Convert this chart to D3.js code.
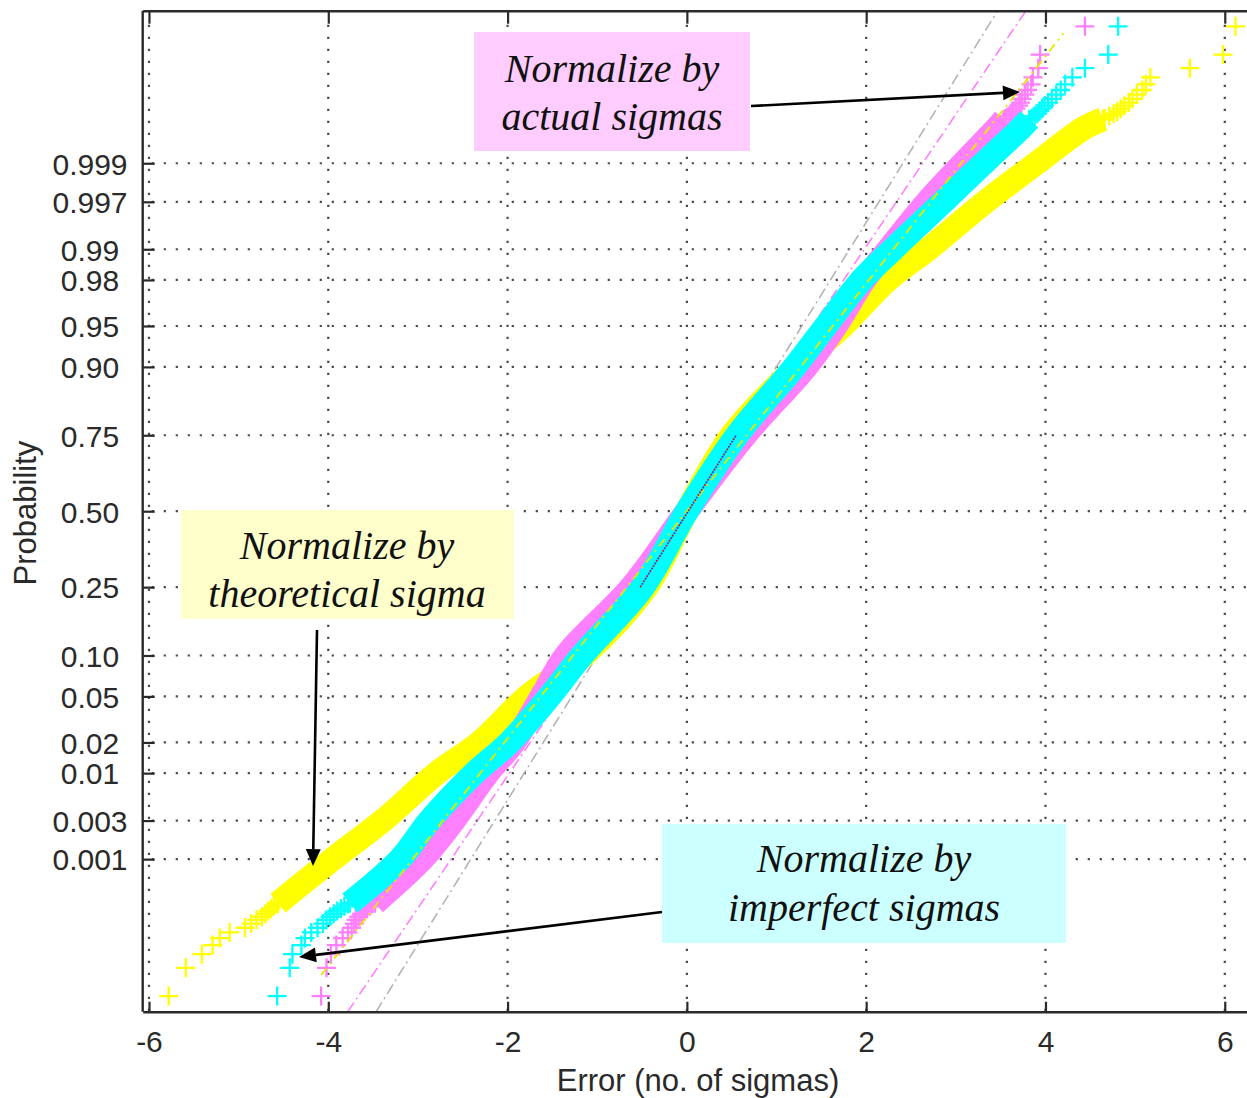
<!DOCTYPE html>
<html><head><meta charset="utf-8">
<script src="https://cdn.jsdelivr.net/npm/d3@7"></script>
<style>
html,body{margin:0;padding:0;background:#fff;}
svg{display:block;}
</style></head><body>
<svg id="chart" width="1247" height="1098"></svg>
<script>
// ---- axis ticks ----
const probTicks = [0.001, 0.003, 0.01, 0.02, 0.05, 0.10, 0.25, 0.50, 0.75, 0.90, 0.95, 0.98, 0.99, 0.997, 0.999];
const probTickLabels = ["0.001","0.003","0.01","0.02","0.05","0.10","0.25","0.50","0.75","0.90","0.95","0.98","0.99","0.997","0.999"];
const errorTicks = [-6, -4, -2, 0, 2, 4, 6];

// ---- dense part of each sample: error value at each probability level ----
const bandProbs       = [0.00025, 0.001, 0.003, 0.01, 0.02, 0.05, 0.10, 0.25, 0.50, 0.75, 0.90, 0.95, 0.98, 0.99, 0.997, 0.999, 0.99966, 0.99975];
const theoreticalBand = [-4.56, -3.95, -3.39, -2.79, -2.31, -1.78, -1.15, -0.45, 0.00, 0.50, 1.22, 1.74, 2.24, 2.69, 3.33, 3.90, 4.42, 4.64];
const actualBand      = [-3.48, -2.95, -2.60, -2.22, -1.93, -1.62, -1.35, -0.62, 0.00, 0.65, 1.33, 1.66, 1.98, 2.25, 2.68, 3.08, 3.45, 3.54];
const imperfectBand   = [-3.76, -3.20, -2.87, -2.37, -1.98, -1.53, -1.17, -0.49, 0.00, 0.56, 1.20, 1.55, 1.95, 2.30, 2.86, 3.31, 3.72, 3.82];

// ---- outermost order statistics (plotting positions of ranks 1..15 from each end) ----
const lowTailProbs  = [0.0000083, 0.000025, 0.0000417, 0.0000583, 0.000075, 0.0000917, 0.000108, 0.000125, 0.000142,
                       0.000158, 0.000175, 0.000192, 0.000208, 0.000225, 0.000242];
const highTailProbs = [0.9999917, 0.999975, 0.9999583, 0.9999417, 0.999925, 0.9999083, 0.999892, 0.999875, 0.999858,
                       0.999842, 0.999825, 0.999808, 0.999792, 0.999775, 0.999758];
const theoreticalLow  = [-5.78, -5.59, -5.41, -5.29, -5.21, -5.10, -4.93, -4.86, -4.80, -4.74, -4.70, -4.67, -4.64, -4.61, -4.58];
const theoreticalHigh = [ 6.12,  5.98,  5.61,  5.17,  5.12,  5.08,  5.02,  4.97,  4.93,  4.88,  4.84,  4.80,  4.76,  4.71,  4.66];
const actualLow       = [-4.08, -4.02, -3.97, -3.91, -3.84, -3.78, -3.74, -3.71, -3.69, -3.66, -3.63, -3.60, -3.57, -3.54, -3.51];
const actualHigh      = [ 4.44,  3.94,  3.92,  3.86,  3.84,  3.80,  3.77,  3.74,  3.72,  3.70,  3.67,  3.64,  3.62,  3.59,  3.56];
const imperfectLow    = [-4.57, -4.43, -4.40, -4.30, -4.26, -4.19, -4.12, -4.06, -4.02, -3.98, -3.94, -3.90, -3.86, -3.82, -3.78];
const imperfectHigh   = [ 4.81,  4.70,  4.44,  4.30,  4.22,  4.17,  4.12,  4.07,  4.03,  3.99,  3.96,  3.93,  3.91,  3.88,  3.85];

// ---- reference lines: [error, probability] end points ----
const narrowFit   = [[-2.41, 0.001], [2.41, 0.999]];      // extended across the axes
const actualFit   = [[-2.63, 0.001], [2.63, 0.999]];      // extended across the axes
const unitFit     = [[-4.08, 0.000019], [4.20, 0.999989]];
const quartileFit = [[-0.52, 0.25], [0.55, 0.75]];

// inverse of the standard normal CDF (Acklam's rational approximation)
function probit(p) {
  const a=[-3.969683028665376e+01,2.209460984245205e+02,-2.759285104469687e+02,1.383577518672690e+02,-3.066479806614716e+01,2.506628277459239e+00];
  const b=[-5.447609879822406e+01,1.615858368580409e+02,-1.556989798598866e+02,6.680131188771972e+01,-1.328068155288572e+01];
  const c=[-7.784894002430293e-03,-3.223964580411365e-01,-2.400758277161838e+00,-2.549732539343734e+00,4.374664141464968e+00,2.938163982698783e+00];
  const d=[7.784695709041462e-03,3.224671290700398e-01,2.445134137142996e+00,3.754408661907416e+00];
  const pl = 0.02425, ph = 1 - pl;
  let q, r;
  if (p < pl) {
    q = Math.sqrt(-2 * Math.log(p));
    return (((((c[0]*q+c[1])*q+c[2])*q+c[3])*q+c[4])*q+c[5]) / ((((d[0]*q+d[1])*q+d[2])*q+d[3])*q+1);
  }
  if (p <= ph) {
    q = p - 0.5; r = q * q;
    return (((((a[0]*r+a[1])*r+a[2])*r+a[3])*r+a[4])*r+a[5])*q / (((((b[0]*r+b[1])*r+b[2])*r+b[3])*r+b[4])*r+1);
  }
  q = Math.sqrt(-2 * Math.log(1 - p));
  return -(((((c[0]*q+c[1])*q+c[2])*q+c[3])*q+c[4])*q+c[5]) / ((((d[0]*q+d[1])*q+d[2])*q+d[3])*q+1);
}

(function draw() {
  const svg = d3.select("#chart");
  const plotLeft = 142.7, plotTop = 10.7, plotBottom = 1011.7;
  const pxPerSigma = 89.65;
  const x = d3.scaleLinear().domain([-6.07, 6.5]).range([plotLeft, plotLeft + 12.57 * pxPerSigma]);
  const y = d3.scaleLinear().domain([-4.445, 4.445]).range([plotBottom, plotTop]);
  const plotRight = x.range()[1];
  const yP = p => y(probit(p));

  const axisFont = "'Liberation Sans', Arial, sans-serif";
  const inkColor = "#2a2a2a";

  svg.append("defs").append("clipPath").attr("id", "plotClip")
    .append("rect").attr("x", plotLeft).attr("y", plotTop)
    .attr("width", plotRight - plotLeft).attr("height", plotBottom - plotTop);

  // ---- dotted grid ----
  const grid = svg.append("g").attr("stroke", "#4a4a4a").attr("stroke-width", 2.2)
    .attr("stroke-dasharray", "2.2 9.8").attr("fill", "none");
  grid.selectAll("line.h").data(probTicks).join("line").attr("class", "h")
    .attr("x1", plotLeft + 9).attr("x2", plotRight).attr("y1", d => yP(d)).attr("y2", d => yP(d));
  grid.selectAll("line.v").data(errorTicks).join("line").attr("class", "v")
    .attr("x1", d => x(d)).attr("x2", d => x(d)).attr("y1", plotTop + 14).attr("y2", plotBottom);

  const plot = svg.append("g").attr("clip-path", "url(#plotClip)");

  // full-height reference line through two [error, prob] points
  function extendedLine(pts) {
    const z0 = probit(pts[0][1]), z1 = probit(pts[1][1]);
    const k = (pts[1][0] - pts[0][0]) / (z1 - z0);
    const [zlo, zhi] = y.domain();
    return [[pts[0][0] + k * (zlo - z0), zlo], [pts[0][0] + k * (zhi - z0), zhi]];
  }
  const zLine = d3.line().x(d => x(d[0])).y(d => y(d[1]));
  const pLine = d3.line().x(d => x(d[0])).y(d => yP(d[1]));

  plot.append("path").attr("d", zLine(extendedLine(narrowFit)))
    .attr("fill", "none").attr("stroke", "#b4b4b4").attr("stroke-width", 1.6).attr("stroke-dasharray", "11 4 2 4");
  plot.append("path").attr("d", zLine(extendedLine(actualFit)))
    .attr("fill", "none").attr("stroke", "#ff80ff").attr("stroke-width", 1.6).attr("stroke-dasharray", "11 4 2 4");

  // ---- the three samples ----
  const samples = [
    { color: "#ffff00", band: theoreticalBand, low: theoreticalLow, high: theoreticalHigh },
    { color: "#ff80ff", band: actualBand,      low: actualLow,      high: actualHigh },
    { color: "#00ffff", band: imperfectBand,   low: imperfectLow,   high: imperfectHigh }
  ];
  const bandLine = d3.line().x(d => x(d[0])).y(d => yP(d[1])).curve(d3.curveCatmullRom.alpha(0.5));
  const plusPath = "M-9.5,0H9.5M0,-9.5V9.5";

  samples.forEach(s => {
    const g = plot.append("g");
    const bandPts = s.band.map((v, i) => [v, bandProbs[i]]);
    g.append("path").attr("d", bandLine(bandPts))
      .attr("fill", "none").attr("stroke", s.color).attr("stroke-width", 24)
      .attr("stroke-linecap", "butt").attr("stroke-linejoin", "round");
    const pts = bandPts
      .concat(s.low.map((v, i) => [v, lowTailProbs[i]]))
      .concat(s.high.map((v, i) => [v, highTailProbs[i]]));
    g.selectAll("path.pt").data(pts).join("path").attr("class", "pt")
      .attr("d", plusPath)
      .attr("transform", d => `translate(${x(d[0])},${yP(d[1])})`)
      .attr("fill", "none").attr("stroke", s.color).attr("stroke-width", 2.3);
  });

  plot.append("path").attr("d", pLine(unitFit))
    .attr("fill", "none").attr("stroke", "#e6e600").attr("stroke-width", 1.8).attr("stroke-dasharray", "9 5 2 5");
  plot.append("path").attr("d", pLine(quartileFit))
    .attr("fill", "none").attr("stroke", "#c0203a").attr("stroke-width", 1.8).attr("stroke-dasharray", "2 4");
  plot.append("path").attr("d", pLine(quartileFit))
    .attr("fill", "none").attr("stroke", "#3040c0").attr("stroke-width", 1.8).attr("stroke-dasharray", "2 4").attr("stroke-dashoffset", 3);

  // ---- axes ----
  const xb = svg.append("g").attr("transform", `translate(0,${plotBottom})`)
    .call(d3.axisBottom(x).tickValues(errorTicks).tickSizeInner(-10).tickSizeOuter(0).tickFormat(d => String(d)));
  xb.selectAll("text").attr("y", 40).attr("dy", 0);
  const xt = svg.append("g").attr("transform", `translate(0,${plotTop})`)
    .call(d3.axisTop(x).tickValues(errorTicks).tickSizeInner(-13).tickSizeOuter(0).tickFormat(""));
  const yl = svg.append("g").attr("transform", `translate(${plotLeft},0)`)
    .call(d3.axisLeft(y).tickValues(probTicks.map(probit)).tickSizeInner(-12).tickSizeOuter(0)
      .tickFormat((d, i) => probTickLabels[i]));
  yl.selectAll("text").attr("x", 90 - plotLeft).attr("text-anchor", "middle").attr("dy", "0.36em");

  [xb, xt, yl].forEach(g => {
    g.select(".domain").attr("stroke", inkColor).attr("stroke-width", 2.4);
    g.selectAll(".tick line").attr("stroke", inkColor).attr("stroke-width", 2.2);
    g.selectAll("text").attr("font-family", axisFont).attr("font-size", 30).attr("fill", inkColor);
  });
  yl.select(".domain").attr("d", `M0,${plotTop}V${plotBottom}`);

  svg.append("text").attr("x", 698).attr("y", 1091)
    .attr("text-anchor", "middle").attr("font-family", axisFont).attr("font-size", 31).attr("fill", inkColor)
    .text("Error (no. of sigmas)");
  svg.append("text").attr("transform", "translate(36,513) rotate(-90)")
    .attr("text-anchor", "middle").attr("font-family", axisFont).attr("font-size", 31).attr("fill", inkColor)
    .text("Probability");

  // ---- annotations ----
  const notes = [
    { box: [474, 32, 276, 119], fill: "#ffccff", cx: 612, lines: ["Normalize by", "actual sigmas"], base: [82, 130],
      arrow: [[751, 106], [1020, 92]] },
    { box: [181, 510, 333, 109], fill: "#ffffcc", cx: 347, lines: ["Normalize by", "theoretical sigma"], base: [559, 607],
      arrow: [[317, 630], [313, 866]] },
    { box: [662, 824, 404, 119], fill: "#ccffff", cx: 864, lines: ["Normalize by", "imperfect sigmas"], base: [872, 921],
      arrow: [[662, 912], [299, 957]] }
  ];
  notes.forEach(n => {
    const g = svg.append("g");
    g.append("rect").attr("x", n.box[0]).attr("y", n.box[1]).attr("width", n.box[2]).attr("height", n.box[3]).attr("fill", n.fill);
    n.lines.forEach((t, i) => g.append("text").attr("x", n.cx).attr("y", n.base[i]).attr("text-anchor", "middle")
      .attr("font-family", "'Liberation Serif', 'Times New Roman', serif").attr("font-style", "italic")
      .attr("font-size", 40).attr("fill", "#111").text(t));
    const [[x0, y0], [x1, y1]] = n.arrow;
    const ang = Math.atan2(y1 - y0, x1 - x0);
    const len = 17, hw = 7.5;
    const bx = x1 - len * Math.cos(ang), by = y1 - len * Math.sin(ang);
    g.append("line").attr("x1", x0).attr("y1", y0).attr("x2", bx).attr("y2", by)
      .attr("stroke", "#000").attr("stroke-width", 2.6);
    g.append("path")
      .attr("d", `M${x1},${y1}L${bx + hw * Math.sin(ang)},${by - hw * Math.cos(ang)}L${bx - hw * Math.sin(ang)},${by + hw * Math.cos(ang)}Z`)
      .attr("fill", "#000");
  });
})();
</script>
</body></html>
